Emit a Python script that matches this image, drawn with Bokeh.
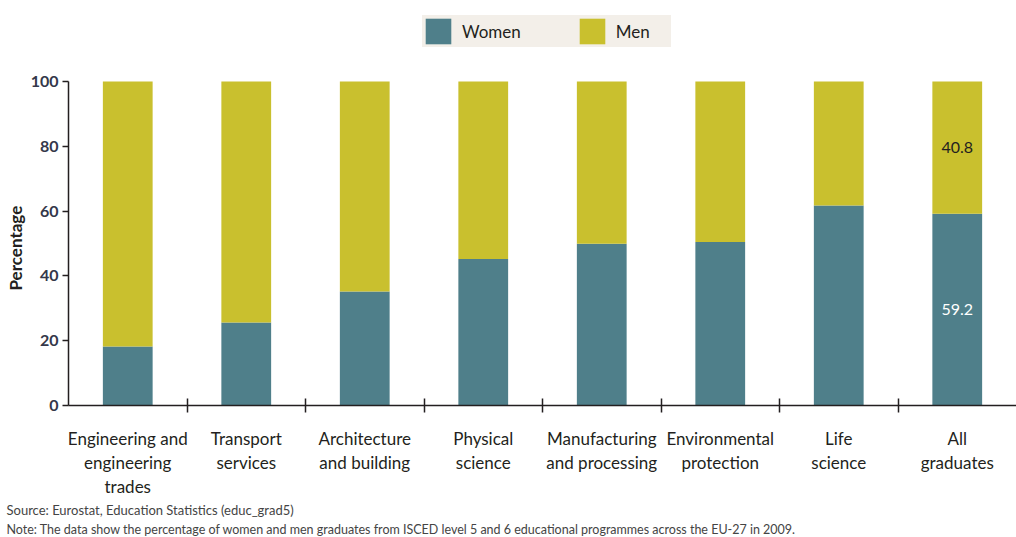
from bokeh.plotting import figure
from bokeh.models import (ColumnDataSource, LinearAxis, FixedTicker, Range1d, Legend,
                          Title, LabelSet)
from bokeh.core.properties import value
from bokeh.embed import file_html
from bokeh.resources import INLINE

categories = ["Engineering and\nengineering\ntrades", "Transport\nservices",
              "Architecture\nand building", "Physical\nscience",
              "Manufacturing\nand processing", "Environmental\nprotection",
              "Life\nscience", "All\ngraduates"]
women = [18.2, 25.6, 35.2, 45.2, 49.9, 50.5, 61.7, 59.2]
men = [81.8, 74.4, 64.8, 54.8, 50.1, 49.5, 38.3, 40.8]
y_ticks = [0, 20, 40, 60, 80, 100]

TEAL = "#4f7f8a"
YELLOW = "#c9c02e"
TXT = "#231f20"
FONT = "Lato"

x = [i + 0.5 for i in range(len(categories))]
src = ColumnDataSource(dict(x=x, women=women, men=men))

p = figure(width=1016, height=537, output_backend="svg", toolbar_location=None,
           x_range=Range1d(0, len(categories)), y_range=Range1d(0, 125),
           x_axis_location=None, min_border_left=68, min_border_right=0,
           min_border_top=0, min_border_bottom=132)
p.outline_line_color = None
p.grid.visible = False

rs = p.vbar_stack(["women", "men"], x="x", width=0.42, source=src,
                  color=[TEAL, YELLOW], line_color=None)

# value labels for last bar
last = len(categories) - 1
lab_src = ColumnDataSource(dict(
    x=[x[last], x[last]],
    y=[women[last] / 2, women[last] + men[last] / 2],
    t=[f"{women[last]:.1f}", f"{men[last]:.1f}"],
    c=["white", TXT]))
p.add_layout(LabelSet(x="x", y="y", text="t", source=lab_src, text_color="c",
                      text_align="center", text_baseline="middle",
                      text_font=value(FONT), text_font_size="16px"))

# y axis
ya = p.yaxis[0]
ya.ticker = FixedTicker(ticks=y_ticks)
ya.bounds = (0, 100)
ya.major_label_text_font = FONT
ya.major_label_text_font_size = "16px"
ya.major_label_text_font_style = "bold"
ya.major_label_text_color = "#34384a"
ya.major_tick_in = 0
ya.major_tick_out = 6
ya.minor_tick_line_color = None
ya.axis_line_color = TXT
ya.axis_line_width = 1.5
ya.major_tick_line_color = TXT
ya.major_tick_line_width = 1.5
ya.major_label_standoff = 4

# y axis title, placed along the 0-100 span
p.add_layout(Title(text="Percentage", text_font=FONT, text_font_size="17px",
                   text_font_style="bold", text_color=TXT, align="left",
                   offset=115, standoff=4), "left")

# x axis: boundary ticks
bticks = list(range(1, len(categories)))
xa = LinearAxis(ticker=FixedTicker(ticks=bticks),
                major_label_overrides={t: "" for t in bticks},
                major_tick_in=7, major_tick_out=7, minor_tick_line_color=None,
                major_label_text_font_size="1px", major_label_standoff=0,
                axis_line_color=TXT, axis_line_width=1.5,
                major_tick_line_color=TXT, major_tick_line_width=1.5)
p.add_layout(xa, "below")

# x axis: category labels
la = LinearAxis(ticker=FixedTicker(ticks=x),
                major_label_overrides={xi: c for xi, c in zip(x, categories)},
                axis_line_color=None, major_tick_line_color=None,
                minor_tick_line_color=None, major_tick_out=0, major_tick_in=0,
                major_label_text_font=FONT, major_label_text_font_size="17px",
                major_label_text_line_height=1.15,
                major_label_text_color=TXT, major_label_standoff=15)
p.add_layout(la, "below")

p.add_layout(Title(text="Source: Eurostat, Education Statistics (educ_grad5)",
                   text_font=FONT, text_font_size="13px", text_font_style="normal",
                   text_color="#444444", align="left", offset=-62, standoff=1), "below")
p.add_layout(Title(text="Note: The data show the percentage of women and men graduates from ISCED level 5 and 6 educational programmes across the EU-27 in 2009.",
                   text_font=FONT, text_font_size="12.5px", text_font_style="normal",
                   text_color="#444444", align="left", offset=-62, standoff=2), "below")

legend = Legend(items=[("Women", [rs[0]]), ("Men", [rs[1]])],
                orientation="horizontal", location=(354, 358),
                background_fill_color="#f3efe9", background_fill_alpha=1,
                border_line_color=None, glyph_width=32, glyph_height=32,
                label_text_font=FONT, label_text_font_size="17px",
                label_text_color=TXT, spacing=55, padding=8, margin=0,
                label_standoff=8, label_width=55)
p.add_layout(legend)

open("out.html", "w").write(file_html(p, INLINE))
